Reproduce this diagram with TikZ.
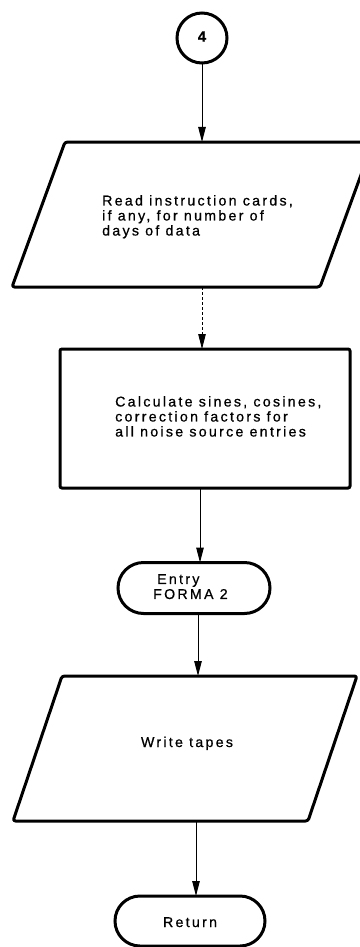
\documentclass[tikz,border=0pt]{standalone}
\usepackage{fontspec}
\setmainfont[LetterSpace=16, FakeBold=0.7]{Liberation Sans}
\usetikzlibrary{arrows.meta,shapes.misc,calc}

\tikzset{
  boxline/.style={line width=3pt, line join=round, rounded corners=2.5pt},
  flow/.style={line width=1pt, -{Triangle[length=15pt,width=7.5pt]}},
  faintflow/.style={flow, densely dashed, line width=0.8pt},
  txt/.style={align=left, inner sep=0pt, font=\fontsize{14.2}{15}\selectfont},
  frame/.style={inner sep=0pt, outer sep=0pt},
  terminal/.style={draw, rounded rectangle, line width=3pt, frame},
}

\begin{document}
\begin{tikzpicture}[x=1pt, y=-1pt]
  \useasboundingbox (0,0) rectangle (359,947);

  % connector circle
  \node (c4) [draw, circle, line width=3pt, minimum size=50pt, frame,
              font=\fontsize{15}{15}\selectfont\bfseries] at (202,38) {\raisebox{3pt}{4}};

  % input: read instruction cards
  \node (p1) [frame, minimum width=308pt, minimum height=145pt] at (192.5,214.5) {};
  \draw[boxline] ($(p1)+(-127.5,-72.5)$) -- ($(p1)+(180.5,-72.5)$)
                 -- ($(p1)+(127.5,72.5)$) -- ($(p1)+(-180.5,72.5)$) -- cycle;
  \node (p1t) [txt, anchor=north west] at (102,195)
    {Read instruction cards,\\if any, for number of\\days of data};

  % process: calculate sines and cosines
  \node (r1) [draw, line width=3pt, rounded corners=2pt, frame,
              minimum width=290pt, minimum height=139pt] at (205,418.5) {};
  \node (r1t) [txt, anchor=north west] at (115,396)
    {Calculate sines, cosines,\\correction factors for\\all noise source entries};

  % entry point
  \node (t1) [terminal, minimum width=152pt, minimum height=51pt] at (194,588) {};
  \node (t1t) [txt, anchor=north west] at (153,574)
    {\hspace*{4pt}Entry\\FORMA 2};

  % output: write tapes
  \node (p2) [frame, minimum width=295pt, minimum height=145pt] at (185,748.5) {};
  \draw[boxline] ($(p2)+(-123,-72.5)$) -- ($(p2)+(172,-72.5)$)
                 -- ($(p2)+(123,72.5)$) -- ($(p2)+(-172,72.5)$) -- cycle;
  \node (p2t) [txt, anchor=base] at (187,747) {Write tapes};

  % exit
  \node (t2) [terminal, minimum width=150pt, minimum height=50pt] at (190,921) {};
  \node (t2t) [txt, anchor=base] at (190,927) {Return};

  % connectors
  \coordinate (a1) at (202,0);
  \coordinate (a2) at (202,0);
  \coordinate (a3) at (200,0);
  \coordinate (a4) at (198,0);
  \coordinate (a5) at (196,0);
  \draw[flow]      (c4.south)           -- (a1 |- p1.north);
  \draw[faintflow] (a2 |- p1.south)     -- (a2 |- r1.north);
  \draw[flow]      (a3 |- r1.south)     -- (a3 |- t1.north);
  \draw[flow]      (a4 |- t1.south)     -- (a4 |- p2.north);
  \draw[flow]      (a5 |- p2.south)     -- (a5 |- t2.north);
\end{tikzpicture}
\end{document}
